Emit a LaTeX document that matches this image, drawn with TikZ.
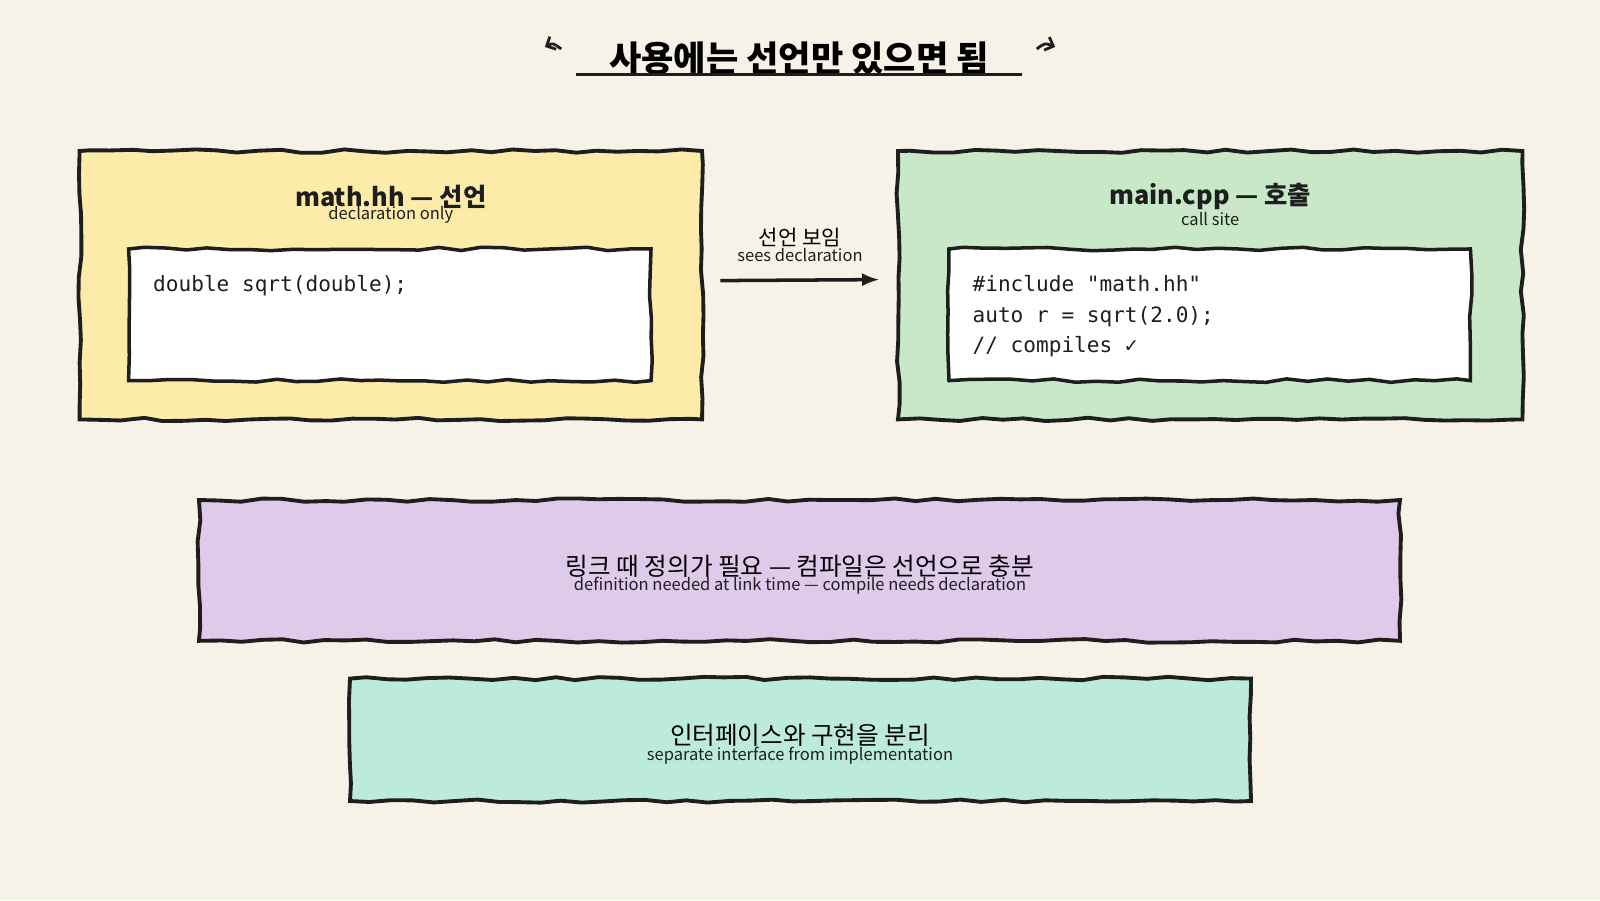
\documentclass[tikz,border=0pt]{standalone}
\usepackage{fontspec}
\setmainfont{Noto Sans CJK KR}
\setmonofont{DejaVu Sans Mono}
\usetikzlibrary{decorations.pathmorphing,positioning,calc,arrows.meta}
\definecolor{paper}{HTML}{F6F2E8}
\definecolor{ink}{HTML}{1E1E1E}
\definecolor{declfill}{HTML}{FDECA9}
\definecolor{callfill}{HTML}{C8E8C8}
\definecolor{linkfill}{HTML}{E0CAEA}
\definecolor{sepfill}{HTML}{BDEBDB}
\tikzset{
	x=0.10204mm, y=-0.10204mm,
	rough/.style={
		draw=ink, line width=1.1pt,
		decorate, decoration={random steps, segment length=6pt, amplitude=0.5pt}
	},
	%
	panel/.style={
		rough, inner sep=0pt
	},
	%
	codebox/.style={
		rough, fill=white, line width=1pt
	},
	%
	heading/.style={
		font=\fontsize{7.2}{8}\selectfont\bfseries, text=ink
	},
	%
	subnote/.style={
		font=\fontsize{4.7}{5}\selectfont, text=ink
	},
	%
	code/.style={
		font=\fontsize{6}{8.7}\selectfont\ttfamily, text=ink, align=left, anchor=north west
	}
}
\begin{document}
\begin{tikzpicture}
    \fill[paper] (0,0) rectangle (1568,882);
    \useasboundingbox (0,0) rectangle (1568,882);
    % title
    \node(title) at (783,57){\fontsize{10}{12}\selectfont\bfseries 사용에는 선언만 있으면 됨};
    \draw[ink, line width=1pt] (564,73) -- (1002,73);
    \draw[ink, line width=0.8pt, -{Straight Barb[length=2pt]}] (550,48) .. controls (542,42) .. (534,46);
    \draw[ink, line width=0.8pt, -{Straight Barb[length=2pt]}] (1016,48) .. controls (1024,42) .. (1034,46);
    % declaration side
    \draw[panel, fill=declfill] (78,148) rectangle (688,411);
    \node(declhead)[heading] at (383,193){math.hh — 선언};
    \node(declsub)[subnote] at (383,211){declaration only};
    \draw[codebox] (126,244) rectangle (638,373);
    \node(declcode)[code] at (138,258){double sqrt(double);};
    % call side
    \draw[panel, fill=callfill] (880,148) rectangle (1492,411);
    \node(callhead)[heading] at (1186,193){main.cpp — 호출};
    \node(callsub)[subnote] at (1186,215){call site};
    \draw[codebox] (930,244) rectangle (1441,373);
    \node(callcode)[code] at (941,258){\#include "math.hh"\\auto r = sqrt(2.0);\\// compiles ✓};
    % link between
    \coordinate(declout) at (706,275);
    \coordinate(callin) at (862,274);
    \draw[ink, line width=1pt, -{Latex[length=5pt]}] (declout) -- (callin);
    \node(seesko)[font=\fontsize{6}{7}\selectfont] at (784,233){선언 보임};
    \node(seesen)[subnote] at (784,250){sees declaration};
    % notes
    \draw[panel, fill=linkfill] (195,490) rectangle (1372,628);
    \node(linkko)[font=\fontsize{7}{8}\selectfont] at (784,555){링크 때 정의가 필요 — 컴파일은 선언으로 충분};
    \node(linken)[subnote] at (784,574){definition needed at link time — compile needs declaration};
    \draw[panel, fill=sepfill] (343,665) rectangle (1226,785);
    \node(sepko)[font=\fontsize{7}{8}\selectfont] at (784,721){인터페이스와 구현을 분리};
    \node(sepen)[subnote] at (784,741){separate interface from implementation};
\end{tikzpicture}
\end{document}
